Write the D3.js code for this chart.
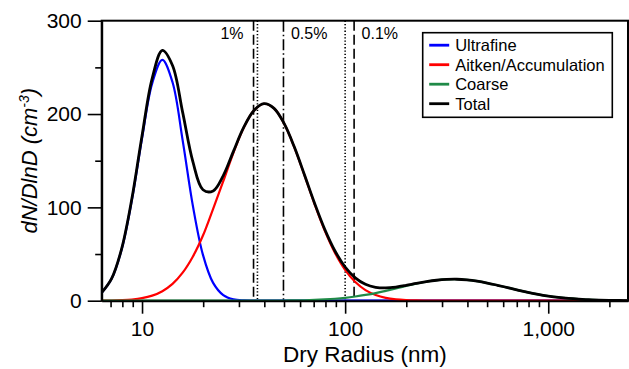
<!DOCTYPE html>
<html>
<head>
<meta charset="utf-8">
<script src="https://cdn.jsdelivr.net/npm/d3@7"></script>
<style>
    html, body { margin: 0; padding: 0; background: #fff; }
    svg { display: block; font-family: "Liberation Sans", Arial, Helvetica, sans-serif; }
    .axis path, .axis line { stroke: #000; }
    .axis text { fill: #000; }
</style>
</head>
<body>
<svg id="chart" width="629" height="369"></svg>
<script>
// Dry radius grid (nm), read at even log steps
const radius = [
    6.31, 7.08, 7.94, 8.91, 10, 11.22, 12.59, 14.13, 15.85, 17.78,
    19.95, 22.39, 25.12, 28.18, 31.62, 35.48, 39.81, 44.67, 50.12, 56.23,
    63.10, 70.79, 79.43, 89.13, 100, 112.2, 125.9, 141.3, 158.5, 177.8,
    199.5, 223.9, 251.2, 281.8, 316.2, 354.8, 398.1, 446.7, 501.2, 562.3,
    631.0, 707.9, 794.3, 891.3, 1000, 1122, 1259, 1413, 1585, 1778,
    1995, 2239, 2512
];

// dN/dlnD for each mode (cm-3)
const ultrafine = [
    8.2, 23.4, 55.2, 107.8, 174.1, 232.9, 258.0, 234.0, 171.8, 102.1,
    49.1, 19.1, 6.0, 1.5, 0.3, 0.1, 0, 0, 0, 0,
    0, 0, 0, 0, 0, 0, 0, 0, 0, 0,
    0, 0, 0, 0, 0, 0, 0, 0, 0, 0,
    0, 0, 0, 0, 0, 0, 0, 0, 0, 0,
    0, 0, 0
];

const aitken = [
    0.1, 0.2, 0.6, 1.3, 2.7, 5.4, 10.2, 18.0, 30.0, 47.1,
    69.8, 98.5, 128.0, 158.5, 185.1, 203.5, 211.0, 206.0, 189.5, 164.3,
    134.2, 103.3, 74.9, 51.2, 33.0, 20.0, 11.4, 6.2, 3.1, 1.5,
    0.7, 0.3, 0.1, 0, 0, 0, 0, 0, 0, 0,
    0, 0, 0, 0, 0, 0, 0, 0, 0, 0,
    0, 0, 0
];

const coarse = [
    0, 0, 0, 0, 0, 0, 0, 0, 0, 0,
    0, 0, 0, 0, 0, 0, 0.05, 0.1, 0.2, 0.3,
    0.5, 0.9, 1.4, 2.1, 3.1, 4.5, 6.2, 8.2, 10.6, 13.1,
    15.7, 18.2, 20.3, 21.9, 22.8, 23.0, 22.3, 20.9, 18.9, 16.5,
    14.0, 11.4, 8.9, 6.8, 5.0, 3.5, 2.4, 1.6, 1.0, 0.6,
    0.4, 0.2, 0.1
];

const total = [
    8.3, 23.6, 55.8, 109.1, 176.8, 238.3, 268.2, 252.0, 201.8, 149.2,
    118.9, 117.6, 134.0, 160.0, 185.4, 203.6, 211.1, 206.1, 189.7, 164.6,
    134.7, 104.2, 76.3, 53.3, 36.1, 24.5, 17.6, 14.4, 13.7, 14.6,
    16.4, 18.5, 20.4, 21.9, 22.8, 23.0, 22.3, 20.9, 18.9, 16.5,
    14.0, 11.4, 8.9, 6.8, 5.0, 3.5, 2.4, 1.6, 1.0, 0.6,
    0.4, 0.2, 0.1
];

const seriesNames = ['Ultrafine', 'Aitken/Accumulation', 'Coarse', 'Total'];

// Critical radii (nm) marked by vertical lines
const dashedRadii = [35.4, 110.7];
const dottedRadii = [37.0, 100];
const dashDotRadii = [49.7];
const cutoffLabels = ['1%', '0.5%', '0.1%'];
const cutoffLabelRadii = [35.4, 49.7, 110.7];

// Ticks
const xMajorTicks = [10, 100, 1000];
const xMinorTicks = [7, 8, 9, 20, 30, 40, 50, 60, 70, 80, 90, 200, 300, 400, 500, 600, 700, 800, 900, 2000];
const yMajorTicks = [0, 100, 200, 300];
const yMinorTicks = [50, 150, 250];

// Dimensions
const svg = d3.select('#chart');
const width = 629;
const height = 369;
const margins = { left: 101.7, top: 20.7, right: 1, bottom: 68.3 };
const innerWidth = width - margins.left - margins.right;
const innerHeight = height - margins.top - margins.bottom;

// Scales
const x = d3.scaleLog().domain([6.33, 2470]).range([0, innerWidth]);
const y = d3.scaleLinear().domain([0, 300]).range([innerHeight, 0]);

const colours = d3.scaleOrdinal()
    .domain(seriesNames)
    .range(['#0000ff', '#ff0000', '#1f8a47', '#000000']);

const plot = svg.append('g')
    .attr('transform', `translate(${margins.left}, ${margins.top})`);

plot.append('clipPath')
    .attr('id', 'plot-clip')
    .append('rect')
    .attr('width', innerWidth)
    .attr('height', innerHeight + 2)
    .attr('y', -1);

// Frame (top and right)
plot.append('rect')
    .attr('width', innerWidth)
    .attr('height', innerHeight)
    .attr('fill', 'none')
    .attr('stroke', '#000')
    .attr('stroke-width', 2);

// Vertical cutoff lines
const drawCutoffs = (values, dash) => {
    plot.append('g')
        .selectAll('line')
        .data(values)
        .enter()
        .append('line')
        .attr('x1', (d) => x(d))
        .attr('x2', (d) => x(d))
        .attr('y1', 0)
        .attr('y2', innerHeight)
        .attr('stroke', '#000')
        .attr('stroke-width', 1.6)
        .attr('stroke-dasharray', dash);
};
drawCutoffs(dashedRadii, '10,4');
drawCutoffs(dottedRadii, '1.3,2');
drawCutoffs(dashDotRadii, '11,3,1.5,3');

plot.append('g')
    .selectAll('text')
    .data(cutoffLabels)
    .enter()
    .append('text')
    .attr('x', (d, i) => x(cutoffLabelRadii[i]) + (i === 0 ? -10 : 7.5))
    .attr('y', 18.5)
    .attr('text-anchor', (d, i) => i === 0 ? 'end' : 'start')
    .style('font-size', '16px')
    .text((d) => d);

// Curves
const seriesData = [ultrafine, aitken, coarse, total];
const line = d3.line()
    .x((d) => x(d.r))
    .y((d) => y(d.v))
    .curve(d3.curveCatmullRom.alpha(0.5));

plot.append('g')
    .attr('clip-path', 'url(#plot-clip)')
    .selectAll('path')
    .data(seriesNames)
    .enter()
    .append('path')
    .attr('fill', 'none')
    .attr('stroke', (d) => colours(d))
    .attr('stroke-width', (d) => d === 'Total' ? 2.8 : 2.2)
    .attr('stroke-linejoin', 'round')
    .attr('d', (d, i) => line(radius.map((r, j) => ({ r: r, v: seriesData[i][j] }))));

// Axes
plot.append('g')
    .attr('class', 'axis')
    .attr('transform', `translate(0, ${innerHeight})`)
    .style('font-size', '21px')
    .call(d3.axisBottom(x)
        .tickValues(xMajorTicks)
        .tickFormat(d3.format(','))
        .tickSize(13)
        .tickSizeOuter(0)
        .tickPadding(7));

const xMinor = plot.append('g')
    .attr('class', 'axis')
    .attr('transform', `translate(0, ${innerHeight})`)
    .call(d3.axisBottom(x)
        .tickValues(xMinorTicks)
        .tickSize(6.5)
        .tickSizeOuter(0));
xMinor.select('.domain').remove();
xMinor.selectAll('text').remove();

plot.append('g')
    .attr('class', 'axis')
    .style('font-size', '21px')
    .call(d3.axisLeft(y)
        .tickValues(yMajorTicks)
        .tickSize(14)
        .tickSizeOuter(0)
        .tickPadding(6));

const yMinor = plot.append('g')
    .attr('class', 'axis')
    .call(d3.axisLeft(y)
        .tickValues(yMinorTicks)
        .tickSize(6.5)
        .tickSizeOuter(0));
yMinor.select('.domain').remove();
yMinor.selectAll('text').remove();

plot.selectAll('.axis .domain').attr('stroke-width', 2);
plot.selectAll('.axis .tick line').attr('stroke-width', 1.6);
plot.selectAll('.axis text').style('font-family', '"Liberation Sans", Arial, Helvetica, sans-serif');

// Labels
svg.append('text')
    .attr('x', margins.left + innerWidth / 2)
    .attr('y', 362)
    .attr('text-anchor', 'middle')
    .style('font-size', '22.5px')
    .text('Dry Radius (nm)');

const yTitle = svg.append('text')
    .attr('transform', `translate(37, ${margins.top + innerHeight / 2}) rotate(-90)`)
    .attr('text-anchor', 'middle')
    .style('font-size', '22px')
    .style('font-style', 'italic');
yTitle.append('tspan').text('dN/DlnD (cm');
yTitle.append('tspan').attr('dy', -8).style('font-size', '14px').text('-3');
yTitle.append('tspan').attr('dy', 8).text(')');

// Legend
const legend = svg.append('g')
    .attr('transform', 'translate(422.7, 32.7)');

legend.append('rect')
    .attr('width', 189.6)
    .attr('height', 84.6)
    .attr('fill', '#fff')
    .attr('stroke', '#000')
    .attr('stroke-width', 1.6);

const items = legend.selectAll('g.legend-item')
    .data(seriesNames)
    .enter()
    .append('g')
    .attr('class', 'legend-item')
    .attr('transform', (d, i) => `translate(0, ${12.5 + i * 19.5})`);

items.append('line')
    .attr('x1', 6.5)
    .attr('x2', 26.5)
    .attr('stroke', (d) => colours(d))
    .attr('stroke-width', 2.8);

items.append('text')
    .attr('x', 32.5)
    .attr('dy', '0.36em')
    .style('font-size', '16.5px')
    .text((d) => d);
</script>
</body>
</html>
